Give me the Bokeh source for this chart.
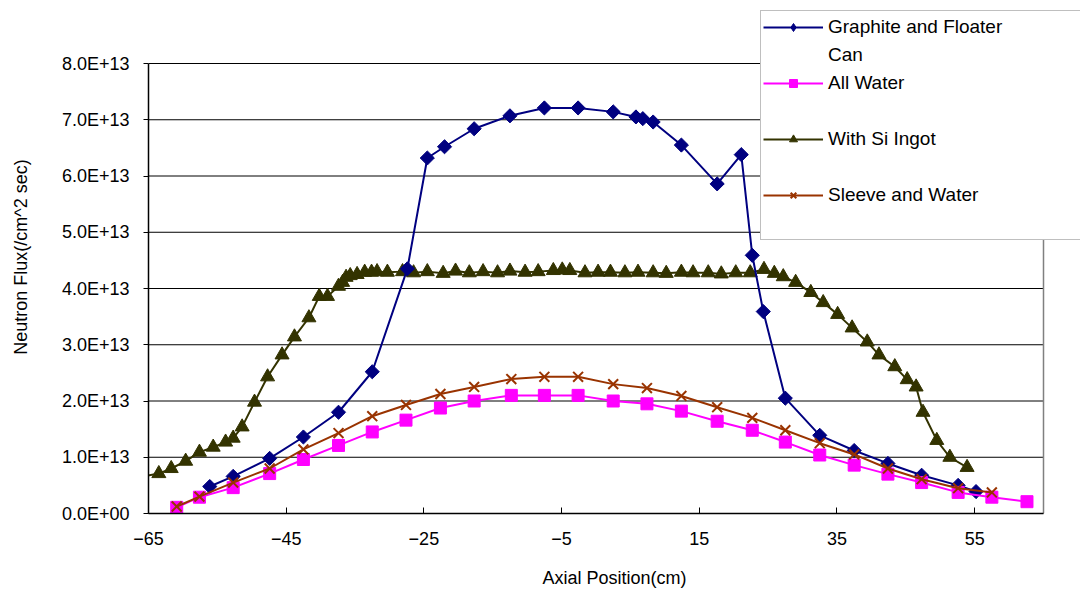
from bokeh.plotting import figure
from bokeh.models import Range1d, FixedTicker, Legend, LegendItem
from bokeh.embed import file_html
from bokeh.resources import INLINE

# ---------------- data (flux in units of 1E13 /cm^2 sec) ----------------
graphite_x = [-56.1, -52.7, -47.4, -42.5, -37.4, -32.5, -27.4, -24.5, -22.0, -17.7, -12.5, -7.5, -2.6, 2.5,
              5.8, 6.8, 8.3, 12.4, 17.6, 21.1, 22.7, 24.3, 27.5, 32.5, 37.5, 42.4, 47.3, 52.6, 55.2]
graphite_y = [0.48, 0.66, 0.98, 1.36, 1.80, 2.52, 4.35, 6.32, 6.52, 6.84, 7.07, 7.21, 7.21, 7.14,
              7.05, 7.02, 6.96, 6.55, 5.86, 6.38, 4.59, 3.59, 2.05, 1.39, 1.12, 0.89, 0.68, 0.50, 0.39]

water_x = [-60.9, -57.6, -52.7, -47.4, -42.5, -37.4, -32.5, -27.6, -22.6, -17.7, -12.3, -7.5, -2.6,
           2.5, 7.4, 12.4, 17.6, 22.7, 27.5, 32.5, 37.5, 42.4, 47.3, 52.6, 57.5, 62.6]
water_y = [0.11, 0.29, 0.46, 0.71, 0.96, 1.21, 1.45, 1.66, 1.875, 2.0, 2.1, 2.1, 2.1,
           2.0, 1.95, 1.82, 1.64, 1.48, 1.27, 1.04, 0.86, 0.70, 0.55, 0.375, 0.29, 0.21]

ingot_x = [-67.5, -63.5, -61.7, -59.6, -57.6, -55.6, -53.8, -52.7, -51.4, -49.6, -47.7, -45.6, -43.8,
           -41.7, -40.2, -39.0, -37.4, -36.8, -36.3, -35.7, -34.7, -33.6, -32.6, -31.8, -30.3, -28.1,
           -26.5, -24.5, -22.2, -20.4, -18.4, -16.4, -14.3, -12.5, -10.3, -8.4, -6.2, -4.9, -3.8, -1.6,
           0.3, 2.1, 4.2, 6.1, 8.3, 10.2, 12.4, 14.1, 16.3, 18.2, 20.3, 22.4, 24.4, 25.9, 27.2, 29.0,
           31.2, 33.0, 35.1, 37.2, 39.4, 41.1, 43.4, 45.2, 46.5, 47.5, 49.5, 51.4, 53.9]
ingot_y = [0.62, 0.71, 0.80, 0.93, 1.09, 1.18, 1.27, 1.34, 1.54, 1.98, 2.43, 2.82, 3.14,
           3.48, 3.86, 3.86, 4.04, 4.11, 4.20, 4.23, 4.25, 4.29, 4.29, 4.30, 4.29, 4.30,
           4.28, 4.30, 4.27, 4.31, 4.28, 4.30, 4.28, 4.31, 4.29, 4.30, 4.32, 4.33, 4.32, 4.28,
           4.29, 4.29, 4.28, 4.29, 4.28, 4.27, 4.29, 4.28, 4.28, 4.26, 4.28, 4.28, 4.34, 4.27, 4.21, 4.11,
           3.93, 3.75, 3.54, 3.30, 3.05, 2.82, 2.61, 2.38, 2.25, 1.80, 1.30, 1.00, 0.82]

sleeve_x = [-60.9, -57.6, -52.7, -47.4, -42.5, -37.4, -32.5, -27.6, -22.6, -17.7, -12.3, -7.5, -2.6,
            2.5, 7.4, 12.4, 17.6, 22.7, 27.5, 32.5, 37.5, 42.4, 47.3, 52.6, 57.5]
sleeve_y = [0.125, 0.30, 0.55, 0.80, 1.14, 1.43, 1.73, 1.93, 2.125, 2.25, 2.39, 2.43, 2.43,
            2.30, 2.23, 2.09, 1.89, 1.70, 1.48, 1.25, 1.05, 0.80, 0.61, 0.45, 0.375]

x_min, x_max = -65, 65
y_min, y_max = 0, 8
x_ticks = [-65, -45, -25, -5, 15, 35, 55]
y_ticks = [0, 1, 2, 3, 4, 5, 6, 7, 8]
y_tick_labels = ["0.0E+00", "1.0E+13", "2.0E+13", "3.0E+13", "4.0E+13",
                 "5.0E+13", "6.0E+13", "7.0E+13", "8.0E+13"]

labels = ["Graphite and Floater", "Can", "All Water", "With Si Ingot", "Sleeve and Water"]

FONT = "Liberation Sans"

# plot-area geometry (pixels): data area 148..1043 x 63..513; frame extended to the
# top / right canvas edges so that the legend box may overlap the margin as in the reference
W, H = 1080, 591
left_px, right_px, top_px, bottom_px = 148, 1043, 63, 513
px_per_x = (right_px - left_px) / (x_max - x_min)
px_per_y = (bottom_px - top_px) / (y_max - y_min)
x_end = x_max + (W - right_px) / px_per_x
y_end = y_max + top_px / px_per_y

p = figure(width=W, height=H, output_backend="svg", toolbar_location=None,
           x_range=Range1d(x_min, x_end), y_range=Range1d(y_min, y_end),
           min_border_left=left_px, min_border_right=0, min_border_top=0,
           min_border_bottom=H - bottom_px,
           background_fill_color="white", border_fill_color="white")
p.outline_line_color = None

# grid (drawn only over the data area)
p.xgrid.grid_line_color = None
p.ygrid.grid_line_color = None
p.segment(x0=[x_min] * len(y_ticks), x1=[x_max] * len(y_ticks), y0=y_ticks, y1=y_ticks,
          line_color="#000000", line_width=1)
# right border of plot area
p.segment(x0=[x_max], x1=[x_max], y0=[y_min], y1=[y_max], line_color="#808080", line_width=1.5)

# axes
p.xaxis.bounds = (x_min, x_max)
p.yaxis.bounds = (y_min, y_max)
p.xaxis.ticker = FixedTicker(ticks=x_ticks)
p.yaxis.ticker = FixedTicker(ticks=y_ticks)
p.yaxis.major_label_overrides = {t: l for t, l in zip(y_ticks, y_tick_labels)}
p.xaxis.minor_tick_line_color = None
p.yaxis.minor_tick_line_color = None
p.xaxis.major_tick_in = 6
p.xaxis.major_tick_out = 0
p.yaxis.major_tick_in = 0
p.yaxis.major_tick_out = 5
for ax in (p.xaxis, p.yaxis):
    ax.axis_line_color = "#000000"
    ax.axis_line_width = 1.5
    ax.major_tick_line_color = "#000000"
    ax.major_label_text_font = FONT
    ax.major_label_text_font_size = "18px"
    ax.major_label_text_color = "#000000"
    ax.axis_label_text_font = FONT
    ax.axis_label_text_font_size = "18px"
    ax.axis_label_text_font_style = "normal"
    ax.axis_label_text_color = "#000000"
p.xaxis.major_label_standoff = 18
p.yaxis.major_label_standoff = 14
p.xaxis.axis_label = "Axial Position(cm)"
p.xaxis.axis_label_standoff = 20
p.yaxis.axis_label = "Neutron Flux(/cm^2 sec)"
p.yaxis.axis_label_standoff = 28

# series (draw order: ingot, graphite, water, sleeve)
ingot_line = p.line(ingot_x, ingot_y, line_color="#333300", line_width=2)
ingot_pts = p.scatter(ingot_x, ingot_y, marker="triangle", size=14,
                      fill_color="#333300", line_color="#333300")

gr_line = p.line(graphite_x, graphite_y, line_color="#000080", line_width=2)
# legend key glyph (a diamond hidden beneath the first plotted marker)
gr_key = p.scatter(graphite_x[:1], graphite_y[:1], marker="diamond", size=13,
                   fill_color="#000080", line_color="#000080")
gr_pts = p.scatter(graphite_x, graphite_y, marker="square", angle=0.7854, size=10,
                   fill_color="#000080", line_color="#000080")

wa_line = p.line(water_x, water_y, line_color="#FF00FF", line_width=2)
wa_pts = p.scatter(water_x, water_y, marker="square", size=12,
                   fill_color="#FF00FF", line_color="#FF00FF")

sl_line = p.line(sleeve_x, sleeve_y, line_color="#993300", line_width=2)
sl_pts = p.scatter(sleeve_x, sleeve_y, marker="x", size=14,
                   line_color="#993300", line_width=2)

# invisible renderers for spacer legend rows
blank1 = p.line([], [], line_alpha=0)
blank2 = p.line([], [], line_alpha=0)
blank3 = p.line([], [], line_alpha=0)
blank4 = p.line([], [], line_alpha=0)

items = [
    LegendItem(label=labels[0], renderers=[gr_line, gr_key]),
    LegendItem(label=labels[1], renderers=[blank1]),
    LegendItem(label=labels[2], renderers=[wa_line, wa_pts]),
    LegendItem(label=" ", renderers=[blank2]),
    LegendItem(label=labels[3], renderers=[ingot_line, ingot_pts]),
    LegendItem(label=" ", renderers=[blank3]),
    LegendItem(label=labels[4], renderers=[sl_line, sl_pts]),
    LegendItem(label=" ", renderers=[blank4]),
]
legend = Legend(items=items, location=(760 - left_px, bottom_px - 240), orientation="vertical",
                label_text_font=FONT, label_text_font_size="19px", label_text_color="#000000",
                label_height=28, label_width=300, glyph_height=20, glyph_width=60, label_standoff=5,
                spacing=0, padding=2, margin=0,
                border_line_color="#808080", border_line_width=1,
                background_fill_color="white", background_fill_alpha=1.0)
p.add_layout(legend, "center")

open("out.html", "w").write(file_html(p, INLINE))
